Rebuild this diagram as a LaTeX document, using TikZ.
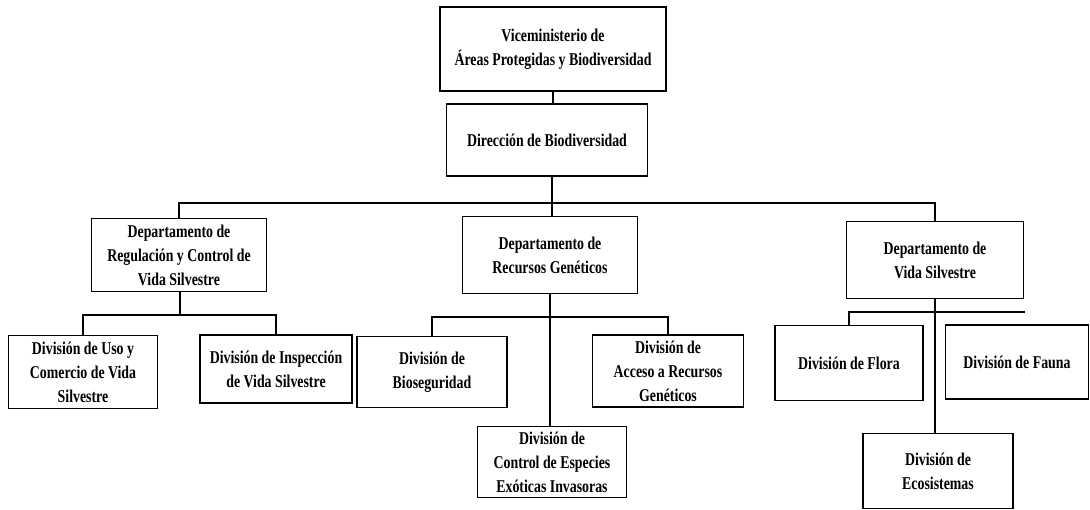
\documentclass[tikz,border=0pt]{standalone}
\usepackage{fontspec}
\setmainfont{Liberation Serif}[FakeStretch=0.77]
\usepackage{tikz}
\usetikzlibrary{calc}

\tikzset{
  unidad/.style={draw, line width=1.3pt, align=center, inner sep=1pt,
    font=\fontsize{18}{24}\selectfont\bfseries},
  linea/.style={line width=1.3pt}
}

\begin{document}
\begin{tikzpicture}[x=1pt,y=-1pt]
  \useasboundingbox (0,0) rectangle (1090,509);

  % Niveles superiores
  \node[unidad, minimum width=226pt, minimum height=84pt] (vice) at (553,49)
    {Viceministerio de\\Áreas Protegidas y Biodiversidad};
  \node[unidad, minimum width=201pt, minimum height=72pt] (dir) at (547,140)
    {Dirección de Biodiversidad};

  % Departamentos
  \node[unidad, minimum width=175pt, minimum height=73pt] (depReg) at (179,255)
    {Departamento de\\Regulación y Control de\\Vida Silvestre};
  \node[unidad, minimum width=175pt, minimum height=77pt] (depRec) at (550,255)
    {Departamento de\\Recursos Genéticos};
  \node[unidad, minimum width=177pt, minimum height=77pt] (depVida) at (935,260)
    {Departamento de\\Vida Silvestre};

  % Divisiones
  \node[unidad, minimum width=149pt, minimum height=73pt] (divUso) at (83,372)
    {División de Uso y\\Comercio de Vida\\Silvestre};
  \node[unidad, minimum width=152pt, minimum height=68pt] (divInsp) at (276,369)
    {División de Inspección\\de Vida Silvestre};
  \node[unidad, minimum width=150pt, minimum height=71pt] (divBio) at (432,372)
    {División de\\Bioseguridad};
  \node[unidad, minimum width=151pt, minimum height=72pt] (divAcc) at (668,371)
    {División de\\Acceso a Recursos\\Genéticos};
  \node[unidad, minimum width=149pt, minimum height=71pt] (divCtrl) at (552,462)
    {División de\\Control de Especies\\Exóticas Invasoras};
  \node[unidad, minimum width=148pt, minimum height=75pt] (divFlora) at (849,363)
    {División de Flora};
  \node[unidad, minimum width=143pt, minimum height=74pt] (divFauna) at (1017,362)
    {División de Fauna};
  \node[unidad, minimum width=150pt, minimum height=75pt] (divEco) at (938,471)
    {División de\\Ecosistemas};

  % Barras de conexion
  \coordinate (bus) at (552,203);
  \coordinate (busReg) at (180,315);
  \coordinate (busRec) at (550,317);
  \coordinate (busVida) at (935,312);
  \coordinate (finVida) at (1025,312);

  \draw[linea] (vice.south) -- (vice.south |- dir.north);
  \draw[linea] (dir.south -| bus) -- (bus);
  \draw[linea] (bus) -| (depReg.north);
  \draw[linea] (bus) -| (depVida.north);
  \draw[linea] (bus) -- (bus |- depRec.north);

  \draw[linea] (depReg.south -| busReg) -- (busReg);
  \draw[linea] (busReg) -| (divUso.north);
  \draw[linea] (busReg) -| (divInsp.north);

  \draw[linea] (depRec.south) -- (divCtrl.north -| depRec.south);
  \draw[linea] (busRec) -| (divBio.north);
  \draw[linea] (busRec) -| (divAcc.north);

  \draw[linea] (depVida.south -| busVida) -- (busVida |- divEco.north);
  \draw[linea] (finVida) -| (divFlora.north);
\end{tikzpicture}
\end{document}
